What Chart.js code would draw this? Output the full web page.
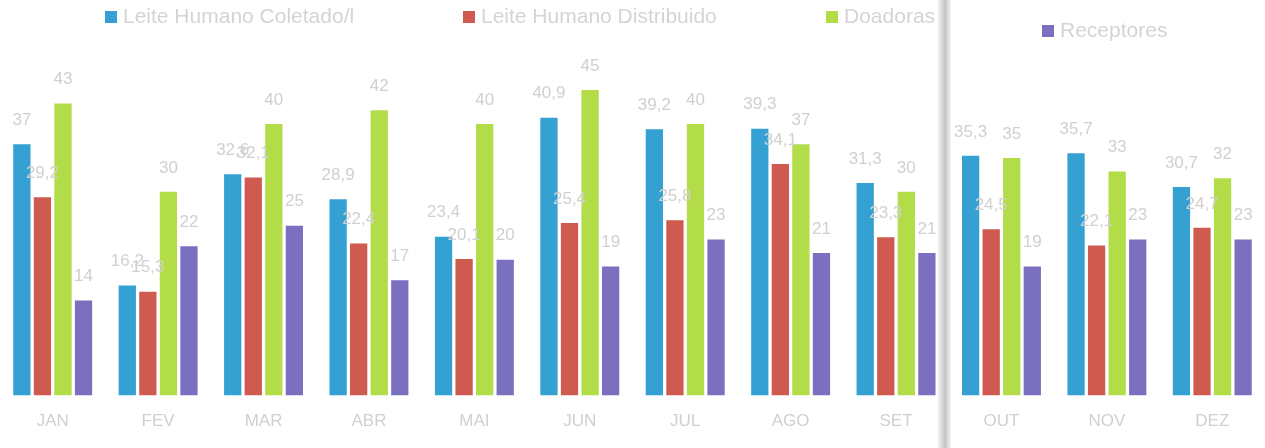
<!DOCTYPE html>
<html>
<head>
<meta charset="utf-8">
<script src="https://cdn.jsdelivr.net/npm/chart.js@4/dist/chart.umd.min.js"></script>
<style>
  html, body { margin: 0; padding: 0; background: #fff; }
  #wrap { position: relative; width: 1265px; height: 448px; overflow: hidden; }
  #legend .item { position: absolute; font-family: "Liberation Sans", Arial, sans-serif; font-size: 21px; color: #d4d4d4; white-space: nowrap; line-height: 24px; }
  #legend .box { display: inline-block; width: 12px; height: 12px; margin-right: 6px; vertical-align: 0px; }
  #fold { position: absolute; left: 938px; top: 0; width: 13px; height: 448px;
    background: linear-gradient(to right, #f4f4f4, #d6d6d6 35%, #c4c4c4 55%, #e0e0e0 80%, #f6f6f6); }
</style>
</head>
<body>
<div id="wrap">
  <canvas id="myBarChart" width="1265" height="448"></canvas>
  <div id="legend"></div>
  <div id="fold"></div>
</div>
<script>
// categories and series
const months = ["JAN", "FEV", "MAR", "ABR", "MAI", "JUN", "JUL", "AGO", "SET", "OUT", "NOV", "DEZ"];
const coletado = [37, 16.2, 32.6, 28.9, 23.4, 40.9, 39.2, 39.3, 31.3, 35.3, 35.7, 30.7];
const distribuido = [29.2, 15.3, 32.1, 22.4, 20.1, 25.4, 25.8, 34.1, 23.3, 24.5, 22.1, 24.7];
const doadoras = [43, 30, 40, 42, 40, 45, 40, 37, 30, 35, 33, 32];
const receptores = [14, 22, 25, 17, 20, 19, 23, 21, 21, 19, 23, 23];
const seriesNames = ["Leite Humano Coletado/l", "Leite Humano Distribuido", "Doadoras", "Receptores"];
const seriesColors = ["#35a1d3", "#cf5a4f", "#b2dc48", "#7a70bf"];

const labelColor = "#d0d0d0";
const fontFamily = "'Liberation Sans', Arial, sans-serif";

// data labels above each bar, comma as decimal mark
const valueLabels = {
  id: "valueLabels",
  afterDatasetsDraw(chart) {
    const ctx = chart.ctx;
    ctx.save();
    ctx.font = "17px " + fontFamily;
    ctx.fillStyle = labelColor;
    ctx.textAlign = "center";
    ctx.textBaseline = "middle";
    chart.data.datasets.forEach((ds, i) => {
      const meta = chart.getDatasetMeta(i);
      meta.data.forEach((bar, j) => {
        const txt = String(ds.data[j]).replace(".", ",");
        ctx.fillText(txt, bar.x, bar.y - 24);
      });
    });
    ctx.restore();
  },
};

const allSeries = [coletado, distribuido, doadoras, receptores];
const datasets = allSeries.map((vals, i) => ({
  label: seriesNames[i],
  data: vals,
  backgroundColor: seriesColors[i],
  categoryPercentage: 0.78,
  barPercentage: 0.84,
}));

new Chart("myBarChart", {
  type: "bar",
  data: { labels: months, datasets: datasets },
  plugins: [valueLabels],
  options: {
    animation: false,
    responsive: false,
    layout: { padding: { top: 56, left: -5, right: 0, bottom: 0 } },
    plugins: { legend: { display: false }, tooltip: { enabled: false } },
    scales: {
      x: {
        grid: { display: false, drawTicks: false },
        border: { display: false },
        ticks: { color: labelColor, font: { size: 17, family: fontFamily }, padding: 16 },
      },
      y: {
        display: false,
        min: 0,
        max: 50,
      },
    },
  },
});

// legend placed like the scanned page
const legendX = [105, 463, 826, 1042];
const legendY = [4, 4, 4, 18];
const legend = document.getElementById("legend");
seriesNames.forEach((name, i) => {
  const item = document.createElement("div");
  item.className = "item";
  item.style.left = legendX[i] + "px";
  item.style.top = legendY[i] + "px";
  item.innerHTML = '<span class="box" style="background:' + seriesColors[i] + '"></span>' + name;
  legend.appendChild(item);
});
</script>
</body>
</html>
